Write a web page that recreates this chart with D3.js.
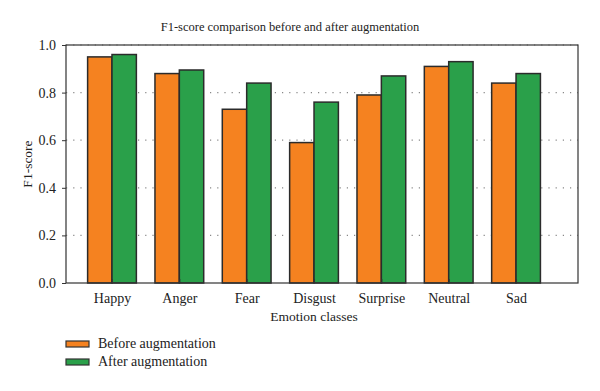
<!DOCTYPE html>
<html>
<head>
<meta charset="utf-8">
<script src="https://cdn.jsdelivr.net/npm/d3@7"></script>
<style>
  body { margin: 0; background: #fff; }
  text { font-family: "Liberation Serif", "DejaVu Serif", serif; fill: #222; }
</style>
</head>
<body>
<div id="plot"></div>
<script>
const categories = ["Happy", "Anger", "Fear", "Disgust", "Surprise", "Neutral", "Sad"];
const before = [0.95, 0.88, 0.73, 0.59, 0.79, 0.91, 0.84];
const after = [0.96, 0.895, 0.84, 0.76, 0.87, 0.93, 0.88];
const yTicks = [0.0, 0.2, 0.4, 0.6, 0.8, 1.0];
const seriesNames = ["Before augmentation", "After augmentation"];
const colors = ["#F58220", "#2AA04A"];

let width = 600, height = 391;
let margin = { top: 45, bottom: 108, left: 66, right: 22 };

let svg = d3.select('#plot')
  .append('svg')
    .attr('width', width)
    .attr('height', height);

// category index scale; ticks at the group centers
let xScale = d3.scaleLinear()
  .domain([-0.683, 6.92])
  .range([margin.left, width - margin.right]);

let yScale = d3.scaleLinear()
  .domain([0, 1])
  .range([height - margin.bottom, margin.top]);

const barW = 0.362;

// dotted grid
svg.append('g')
  .selectAll('line')
  .data(yTicks.filter(d => d > 0))
  .enter()
  .append('line')
    .attr('x1', margin.left)
    .attr('x2', width - margin.right)
    .attr('y1', d => yScale(d))
    .attr('y2', d => yScale(d))
    .attr('stroke', '#888')
    .attr('stroke-width', 1.2)
    .attr('stroke-dasharray', '1.2,6');

// bars
let series = [before, after];
series.forEach(function(vals, s) {
  svg.append('g')
    .selectAll('rect')
    .data(vals)
    .enter()
    .append('rect')
      .attr('x', (d, i) => xScale(i - barW + s * barW))
      .attr('y', d => yScale(d))
      .attr('width', xScale(barW) - xScale(0))
      .attr('height', d => yScale(0) - yScale(d))
      .attr('fill', colors[s])
      .attr('stroke', '#2b2b2b')
      .attr('stroke-width', 1.5);
});

// frame
svg.append('rect')
  .attr('x', margin.left)
  .attr('y', margin.top)
  .attr('width', width - margin.right - margin.left)
  .attr('height', yScale(0) - margin.top)
  .attr('fill', 'none')
  .attr('stroke', '#333')
  .attr('stroke-width', 1.2);

// y axis
let yAxis = svg.append('g')
  .attr('transform', `translate(${margin.left},0)`)
  .call(d3.axisLeft(yScale).tickValues(yTicks).tickFormat(d3.format('.1f')).tickSize(4).tickPadding(6));
yAxis.select('.domain').remove();
yAxis.selectAll('line').attr('stroke', '#333');
yAxis.selectAll('text')
  .style('font-family', '"Liberation Serif", serif')
  .attr('font-size', 14)
  .attr('fill', '#222');

// x axis, ticks pointing inwards
let xAxis = svg.append('g')
  .attr('transform', `translate(0,${yScale(0)})`)
  .call(d3.axisBottom(xScale).tickValues(d3.range(categories.length))
    .tickFormat(i => categories[i]).tickSize(-4).tickPadding(10));
xAxis.select('.domain').remove();
xAxis.selectAll('line').attr('stroke', '#333');
xAxis.selectAll('text')
  .style('font-family', '"Liberation Serif", serif')
  .attr('font-size', 14)
  .attr('fill', '#222');

// axis labels and title
svg.append('text')
  .attr('x', 314)
  .attr('y', 321)
  .attr('text-anchor', 'middle')
  .attr('font-size', 13.5)
  .text('Emotion classes');

svg.append('text')
  .attr('transform', `translate(32,${(margin.top + yScale(0)) / 2}) rotate(-90)`)
  .attr('text-anchor', 'middle')
  .attr('font-size', 13.5)
  .text('F1-score');

svg.append('text')
  .attr('x', 290)
  .attr('y', 31)
  .attr('text-anchor', 'middle')
  .attr('font-size', 12.5)
  .text('F1-score comparison before and after augmentation');

// legend
let legend = svg.append('g')
  .selectAll('g')
  .data(seriesNames)
  .enter()
  .append('g')
    .attr('transform', (d, i) => `translate(66,${341 + i * 18})`);
legend.append('rect')
  .attr('width', 23)
  .attr('height', 6)
  .attr('fill', (d, i) => colors[i])
  .attr('stroke', '#333')
  .attr('stroke-width', 1.2);
legend.append('text')
  .attr('x', 32)
  .attr('y', 7)
  .attr('font-size', 14)
  .text(d => d);
</script>
</body>
</html>
